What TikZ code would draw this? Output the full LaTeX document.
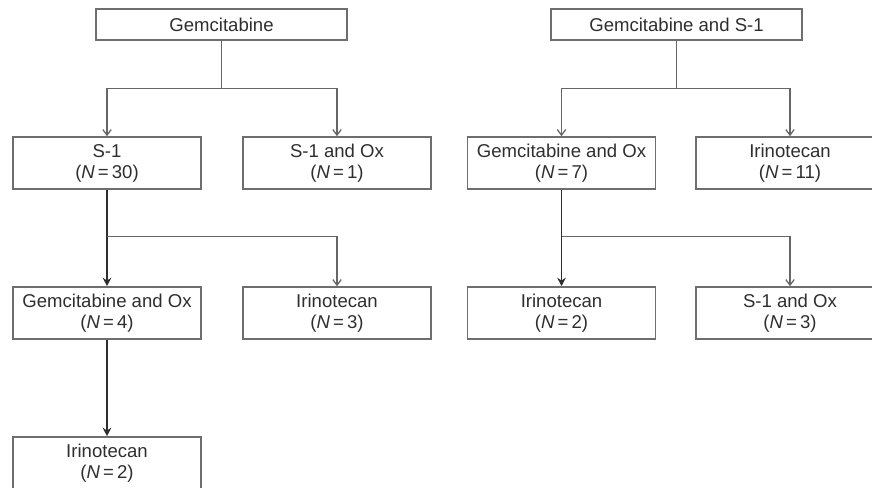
\documentclass[tikz,border=0pt]{standalone}
\usepackage{fontspec}
\setmainfont{Liberation Sans}
\usepackage{tikz}
\usetikzlibrary{calc}
\usetikzlibrary{arrows.meta}
\usetikzlibrary{positioning}

\definecolor{boxgray}{HTML}{6E6E6E}
\definecolor{txtgray}{HTML}{2E2E2E}
\definecolor{linegray}{HTML}{666666}

\tikzset{
  drug/.style={draw=boxgray, line width=1.1pt, rectangle, align=center, text=txtgray,
    minimum width=4.7cm, minimum height=1.3cm, inner sep=0pt,
    font=\fontsize{13.2}{15}\selectfont},
  topdrug/.style={drug, minimum width=6.275cm, minimum height=0.775cm},
  branch/.style={draw=linegray, line width=0.9pt, -{Straight Barb[length=4pt,width=6pt]}},
  trunk/.style={draw=txtgray, line width=1.3pt, -{Stealth[length=6pt,width=6pt]}},
  stem/.style={draw=linegray, line width=0.9pt},
}

\begin{document}
\begin{tikzpicture}[x=0.025cm, y=-0.025cm]
  \clip (0,0) rectangle (872,487); %page borders
  \useasboundingbox (0,0) rectangle (872,487);

  % first line of treatment
  \node[topdrug] (gem) at (221.5,24.5) {Gemcitabine};
  \node[topdrug] (gems) at (676.5,24.5) {Gemcitabine and S-1};

  % second line
  \node[drug] (s1) at (107,163) {S-1\\(\textit{N}\,=\,30)};
  \node[drug] (s1ox) at (337,163) {S-1 and Ox\\(\textit{N}\,=\,1)};
  \node[drug] (gox7) at (561.5,163) {Gemcitabine and Ox\\(\textit{N}\,=\,7)};
  \node[drug] (iri11) at (790,163) {Irinotecan\\(\textit{N}\,=\,11)};

  % third line
  \node[drug] (gox4) at (107,313) {Gemcitabine and Ox\\(\textit{N}\,=\,4)};
  \node[drug] (iri3) at (337,313) {Irinotecan\\(\textit{N}\,=\,3)};
  \node[drug] (iri2r) at (561.5,313) {Irinotecan\\(\textit{N}\,=\,2)};
  \node[drug] (s1ox3) at (790,313) {S-1 and Ox\\(\textit{N}\,=\,3)};

  % fourth line
  \node[drug] (iri2l) at (107,463) {Irinotecan\\(\textit{N}\,=\,2)};

  % connectors
  \coordinate (jgem) at ($(gem.south)+(0,48)$);
  \coordinate (jgems) at ($(gems.south)+(0,48)$);
  \draw[stem] (gem.south) -- (jgem);
  \draw[stem] (gems.south) -- (jgems);
  \draw[branch] (jgem) -| (s1.north);
  \draw[branch] (jgem) -| (s1ox.north);
  \draw[branch] (jgems) -| (gox7.north);
  \draw[branch] (jgems) -| (iri11.north);

  \coordinate (js1) at ($(s1.south)+(0,47)$);
  \coordinate (jgox) at ($(gox7.south)+(0,47)$);
  \draw[trunk] (s1.south) -- (gox4.north);
  \draw[branch] (js1) -| (iri3.north);
  \draw[trunk] (gox7.south) -- (iri2r.north);
  \draw[branch] (jgox) -| (s1ox3.north);

  \draw[trunk] (gox4.south) -- (iri2l.north);
\end{tikzpicture}
\end{document}
